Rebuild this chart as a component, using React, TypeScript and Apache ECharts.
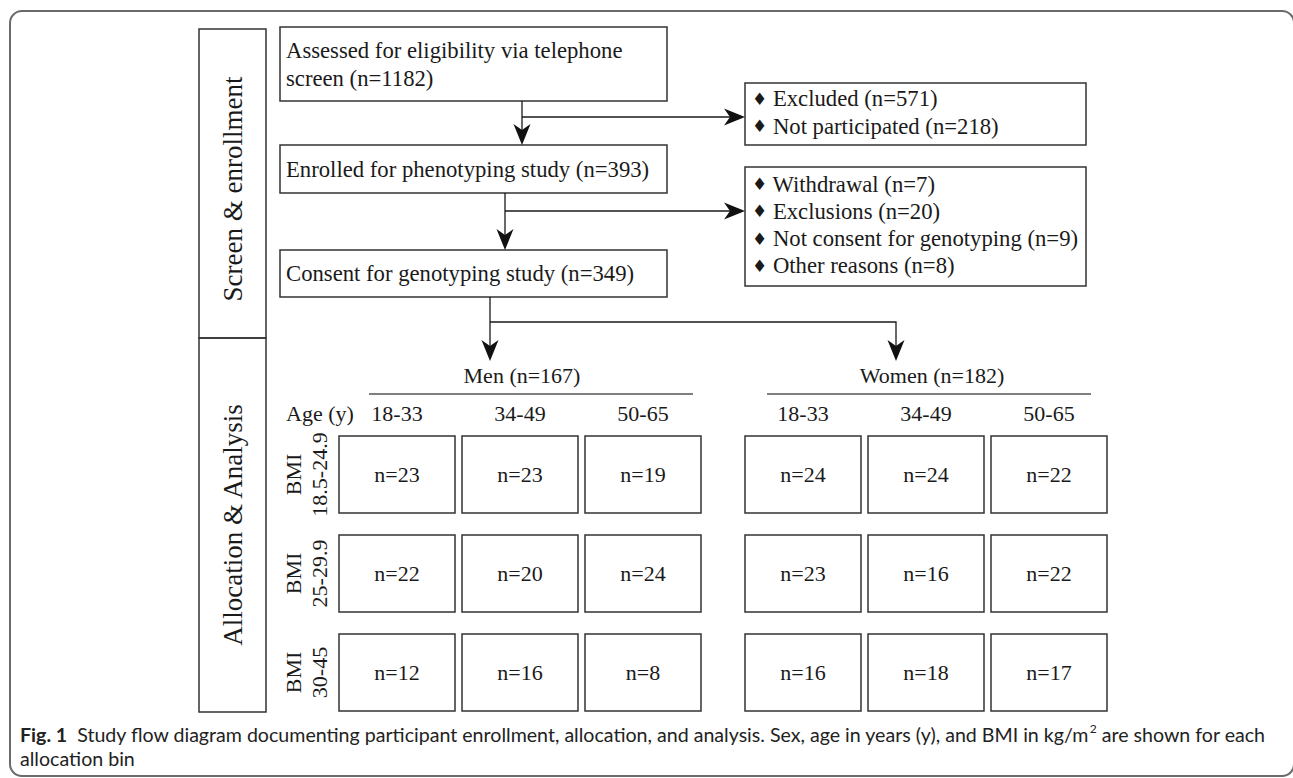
import React, { useEffect, useRef } from "react";
import * as echarts from "echarts";

// ---- data ----
const screenSteps: string[][] = [
  ["Assessed for eligibility via telephone", "screen (n=1182)"],
  ["Enrolled for phenotyping study (n=393)"],
  ["Consent for genotyping study (n=349)"],
];
const exclusions1 = ["Excluded (n=571)", "Not participated (n=218)"];
const exclusions2 = [
  "Withdrawal (n=7)",
  "Exclusions (n=20)",
  "Not consent for genotyping (n=9)",
  "Other reasons (n=8)",
];
const phaseLabels = ["Screen & enrollment", "Allocation & Analysis"];
const sexGroups = ["Men (n=167)", "Women (n=182)"];
const ageLabel = "Age (y)";
const ageGroups = ["18-33", "34-49", "50-65"];
const bmiGroups = ["18.5-24.9", "25-29.9", "30-45"];
const menCounts = [
  [23, 23, 19],
  [22, 20, 24],
  [12, 16, 8],
];
const womenCounts = [
  [24, 24, 22],
  [23, 16, 22],
  [16, 18, 17],
];
const captionBold = "Fig. 1";
const captionText1 =
  "Study flow diagram documenting participant enrollment, allocation, and analysis. Sex, age in years (y), and BMI in kg/m";
const captionText1b = " are shown for each";
const captionText2 = "allocation bin";

// ---- style ----
const SERIF = '"Liberation Serif", "Times New Roman", serif';
const SANS = 'Lato, "Open Sans", sans-serif';
const INK = "#1a1a1a";
const BOX = "#333";
const BOXFONT = 22.7;
const CAPFONT = 19.6;

function text(x: number, y: number, t: string, opts: any = {}) {
  return {
    type: "text",
    x,
    y,
    rotation: opts.rotation || 0,
    z: 10,
    style: {
      text: t,
      fontFamily: opts.fontFamily || SERIF,
      fontSize: opts.fontSize || 22,
      fontWeight: opts.fontWeight || "normal",
      fill: opts.fill || INK,
      align: opts.align || "center",
      textAlign: opts.align || "center",
      verticalAlign: "middle",
      textVerticalAlign: "middle",
      rich: opts.rich,
    },
  };
}
function rect(x: number, y: number, w: number, h: number, opts: any = {}) {
  return {
    type: "rect",
    shape: { x, y, width: w, height: h, r: opts.r || 0 },
    z: opts.z || 5,
    style: { fill: "none", stroke: opts.stroke || BOX, lineWidth: opts.lineWidth || 1.5 },
  };
}
function line(points: number[][], opts: any = {}) {
  return {
    type: "polyline",
    shape: { points },
    z: 6,
    style: { fill: "none", stroke: opts.stroke || INK, lineWidth: opts.lineWidth || 1.3 },
  };
}
function headDown(x: number, ty: number) {
  return {
    type: "polygon",
    z: 7,
    shape: { points: [[x, ty], [x - 8.5, ty - 21], [x, ty - 15], [x + 8.5, ty - 21]] },
    style: { fill: "#111" },
  };
}
function headRight(tx: number, y: number) {
  return {
    type: "polygon",
    z: 7,
    shape: { points: [[tx, y], [tx - 21, y - 8.5], [tx - 15, y], [tx - 21, y + 8.5]] },
    style: { fill: "#111" },
  };
}

function buildGraphics() {
  const g: any[] = [];
  // outer frame
  g.push(rect(10, 11, 1284, 765, { r: 12, stroke: "#6b6b6b", lineWidth: 2, z: 1 }));

  // phase boxes
  g.push(rect(199, 29, 67, 309));
  g.push(rect(199, 338, 67, 374));
  g.push(text(233, 189, phaseLabels[0], { rotation: Math.PI / 2, fontSize: 27 }));
  g.push(text(233, 525, phaseLabels[1], { rotation: Math.PI / 2, fontSize: 27 }));

  // main boxes
  const mainX = 280, mainW = 387;
  const mainBoxes = [
    { y: 27, h: 74 },
    { y: 145, h: 48 },
    { y: 250, h: 47 },
  ];
  mainBoxes.forEach((b, i) => {
    g.push(rect(mainX, b.y, mainW, b.h));
    const lines = screenSteps[i];
    const lh = 28;
    const cy = b.y + b.h / 2;
    lines.forEach((t, j) => {
      g.push(text(286, cy + (j - (lines.length - 1) / 2) * lh, t, { align: "left", fontSize: BOXFONT }));
    });
  });

  // exclusion boxes
  const exX = 745, exW = 341;
  const exBoxes = [
    { y: 83, h: 62, items: exclusions1 },
    { y: 167, h: 119, items: exclusions2 },
  ];
  exBoxes.forEach((b) => {
    g.push(rect(exX, b.y, exW, b.h));
    const lh = 27.2;
    const cy = b.y + b.h / 2 - 1.5;
    b.items.forEach((t, j) => {
      const y = cy + (j - (b.items.length - 1) / 2) * lh;
      g.push(
        text(752, y, "{d|\u2666} " + t, {
          align: "left",
          fontSize: BOXFONT,
          rich: { d: { fontSize: 17, fontFamily: '"DejaVu Sans", sans-serif', fill: INK } },
        })
      );
    });
  });

  // arrows
  g.push(line([[522, 101], [522, 140]]));
  g.push(headDown(522, 145));
  g.push(line([[522, 117], [740, 117]]));
  g.push(headRight(745, 117));

  g.push(line([[505, 193], [505, 245]]));
  g.push(headDown(505, 250));
  g.push(line([[505, 211], [740, 211]]));
  g.push(headRight(745, 211));

  g.push(line([[490, 297], [490, 356]]));
  g.push(headDown(490, 361));
  g.push(line([[490, 322], [896, 322], [896, 356]]));
  g.push(headDown(896, 361));

  // allocation grid
  const boxW = 116, boxH = 77;
  const groups = [
    { xs: [339, 462, 585], counts: menCounts, header: sexGroups[0], hx: 522, lx: [369, 693] },
    { xs: [745, 868, 991], counts: womenCounts, header: sexGroups[1], hx: 932, lx: [767, 1091] },
  ];
  const rowTops = [436, 535, 634];
  groups.forEach((grp) => {
    g.push(text(grp.hx, 375, grp.header, { fontSize: 22 }));
    g.push(line([[grp.lx[0], 394], [grp.lx[1], 394]], { stroke: "#555", lineWidth: 1.6 }));
    grp.xs.forEach((x, c) => {
      g.push(text(x + boxW / 2, 413, ageGroups[c], { fontSize: 22 }));
    });
    rowTops.forEach((top, r) => {
      grp.xs.forEach((x, c) => {
        g.push(rect(x, top, boxW, boxH));
        g.push(text(x + boxW / 2, top + boxH / 2, "n=" + grp.counts[r][c], { fontSize: 22 }));
      });
    });
  });
  g.push(text(320, 413, ageLabel, { fontSize: 22 }));
  rowTops.forEach((top, r) => {
    const cy = top + boxH / 2;
    g.push(text(293, cy, "BMI", { rotation: Math.PI / 2, fontSize: 22 }));
    g.push(text(319, cy, bmiGroups[r], { rotation: Math.PI / 2, fontSize: 22 }));
  });

  // caption
  g.push(
    text(20, 734, "{b|" + captionBold + "}  " + captionText1 + "{s|2}" + captionText1b, {
      align: "left",
      fontFamily: SANS,
      fontSize: CAPFONT,
      fill: "#222",
      rich: {
        b: { fontWeight: "bold", fontFamily: SANS, fontSize: CAPFONT, fill: "#222", lineHeight: 24 },
        s: { fontFamily: SANS, fontSize: 12, fill: "#222", verticalAlign: "top", lineHeight: 12 },
      },
    })
  );
  g.push(text(20, 758, captionText2, { align: "left", fontFamily: SANS, fontSize: CAPFONT, fill: "#222" }));
  return g;
}

export default function App() {
  const ref = useRef<HTMLDivElement>(null);
  useEffect(() => {
    if (!ref.current) return;
    const chart = echarts.init(ref.current, undefined, { renderer: "svg" });
    chart.setOption({
      animation: false,
      backgroundColor: "#ffffff",
      graphic: { elements: buildGraphics() },
    });
    return () => chart.dispose();
  }, []);
  return (
    <div
      ref={ref}
      style={{ position: "absolute", left: 0, top: 0, width: 1293, height: 778, background: "#fff" }}
    />
  );
}
